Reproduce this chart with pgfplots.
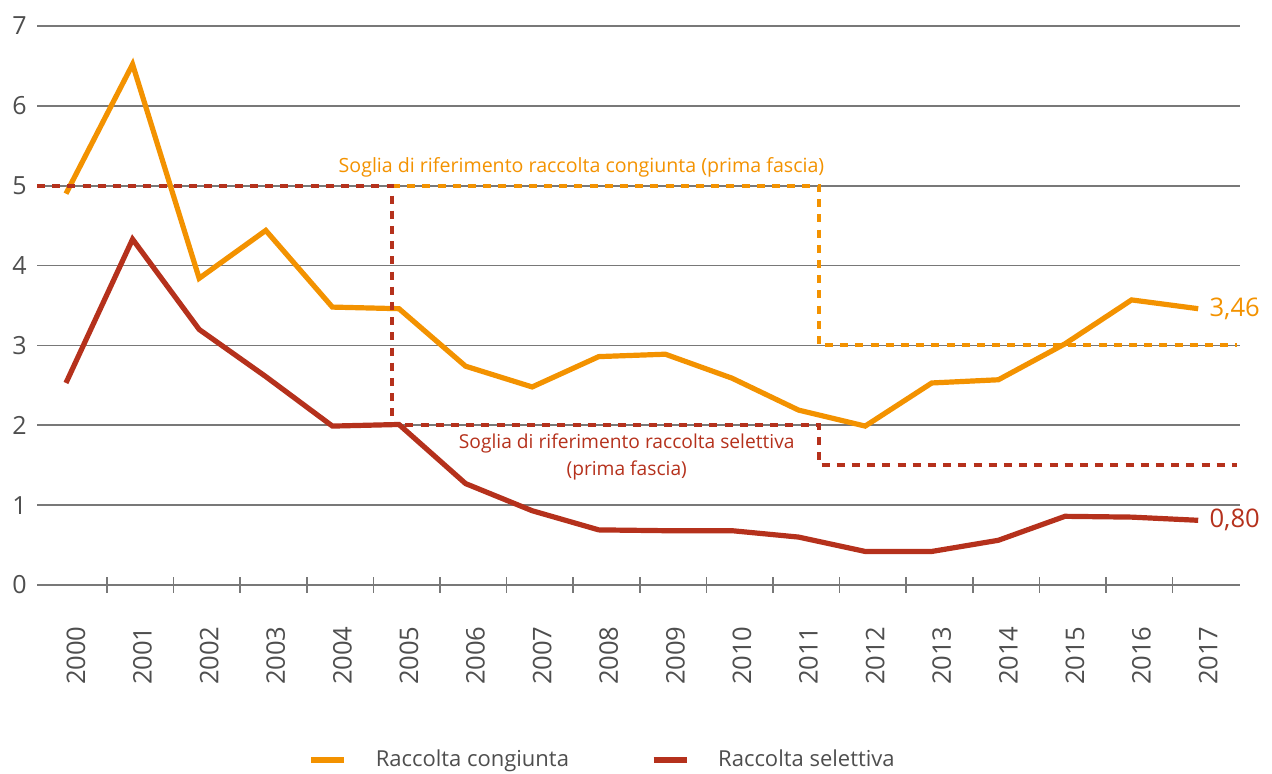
\documentclass[border=0pt]{standalone}
\usepackage{fontspec}
\setmainfont{Open Sans}
\usepackage{pgfplots}
\pgfplotsset{compat=1.18}
\definecolor{cong}{RGB}{243,146,0}
\definecolor{sel}{RGB}{181,49,28}
\definecolor{gridc}{RGB}{120,120,120}
\definecolor{txt}{RGB}{78,78,78}
\begin{document}
\begin{tikzpicture}[x=1pt,y=1pt]
\useasboundingbox (-18.5,-94.5) rectangle (617.5,292.5);
\begin{axis}[
  at={(0,0)}, anchor=south west,
  scale only axis, width=601.5pt, height=279.5pt,
  xmin=-0.435, xmax=17.628, ymin=0, ymax=7,
  clip=false,
  axis line style={draw=none},
  ytick={0,1,...,7}, ymajorgrids,
  grid style={gridc, line width=0.8pt},
  major tick length=0pt,
  tick pos=left,
  /pgf/number format/assume math mode=true,
  yticklabel style={font=\fontsize{12.5pt}{15pt}\selectfont, text=txt, inner sep=0pt, xshift=-5pt},
  xtick={0.15,1.15,2.15,3.15,4.15,5.15,6.15,7.15,8.15,9.15,10.15,11.15,12.15,13.15,14.15,15.15,16.15,17.15},
  xticklabels={2000,2001,2002,2003,2004,2005,2006,2007,2008,2009,2010,2011,2012,2013,2014,2015,2016,2017},
  xticklabel style={rotate=90, anchor=east, font=\fontsize{12.8pt}{15pt}\selectfont, text=txt, inner sep=0pt},
  xticklabel shift=20.5pt,
  extra x ticks={0.616,1.616,2.616,3.616,4.616,5.616,6.616,7.616,8.616,9.616,10.616,11.616,12.616,13.616,14.616,15.616,16.616},
  extra x tick labels={},
  extra x tick style={grid=none, tick align=center, major tick length=8pt, tick style={gridc, line width=0.8pt}},
  legend style={draw=none, fill=none, at={(0.471,-0.313)}, anchor=center, legend columns=2,
    font=\fontsize{11pt}{13pt}\selectfont, text=txt,
    /tikz/every odd column/.append style={column sep=12.5pt},
    /tikz/every even column/.append style={column sep=39pt}},
  legend image code/.code={\draw[#1, line width=2.6pt] (0pt,0pt) -- (16.5pt,0pt);},
]
\addplot[cong, line width=2.6pt, line join=miter] coordinates {
(0,4.90)(1,6.52)(2,3.84)(3,4.44)(4,3.48)(5,3.46)(6,2.74)(7,2.48)(8,2.86)(9,2.89)
(10,2.59)(11,2.19)(12,1.99)(13,2.53)(14,2.57)(15,3.02)(16,3.57)(17,3.46)};
\addlegendentry{Raccolta congiunta}
\addplot[sel, line width=2.6pt, line join=miter] coordinates {
(0,2.53)(1,4.33)(2,3.20)(3,2.61)(4,1.99)(5,2.01)(6,1.27)(7,0.93)(8,0.69)(9,0.68)
(10,0.68)(11,0.60)(12,0.42)(13,0.42)(14,0.56)(15,0.86)(16,0.85)(17,0.81)};
\addlegendentry{Raccolta selettiva}
% thresholds
\addplot[cong, line width=2pt, dash pattern=on 4pt off 3.6pt, forget plot] coordinates {
(4.895,5)(11.31,5)(11.31,3)(17.58,3)};
\addplot[sel, line width=2pt, dash pattern=on 4pt off 3.6pt, forget plot] coordinates {
(-0.435,5)(4.895,5)(4.895,2)(11.31,2)(11.31,1.5)(17.58,1.5)};
\node[anchor=base, text=cong, font=\fontsize{9.8pt}{13pt}\selectfont, inner sep=0pt] at (axis cs:7.74,5.16) {Soglia di riferimento raccolta congiunta (prima fascia)};
\node[anchor=base, text=sel, font=\fontsize{9.6pt}{13pt}\selectfont, inner sep=0pt] at (axis cs:8.42,1.715) {Soglia di riferimento raccolta selettiva};
\node[anchor=base, text=sel, font=\fontsize{9.6pt}{13pt}\selectfont, inner sep=0pt] at (axis cs:8.42,1.375) {(prima fascia)};
\node[anchor=west, text=cong, font=\fontsize{12.8pt}{15pt}\selectfont, inner sep=0pt] at (axis cs:17,3.46) [xshift=5.5pt] {3,46};
\node[anchor=west, text=sel, font=\fontsize{12.8pt}{15pt}\selectfont, inner sep=0pt] at (axis cs:17,0.81) [xshift=5.5pt] {0,80};
\end{axis}
\end{tikzpicture}
\end{document}
